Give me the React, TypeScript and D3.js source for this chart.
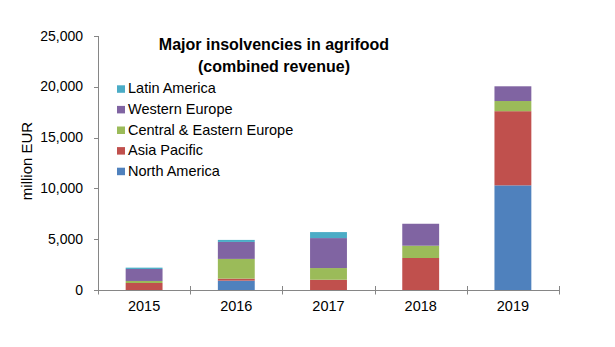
import React from "react";
import * as d3 from "d3";

const years = ["2015", "2016", "2017", "2018", "2019"];
const seriesNames = ["North America", "Asia Pacific", "Central & Eastern Europe", "Western Europe", "Latin America"];
const northAmerica = [0, 920, 0, 0, 10300];
const asiaPacific = [690, 200, 1010, 3150, 7300];
const centralEastern = [200, 1940, 1150, 1210, 1000];
const westernEurope = [1180, 1670, 2950, 2160, 1450];
const latinAmerica = [130, 200, 590, 0, 0];
const yTicks = [0, 5000, 10000, 15000, 20000, 25000];
const colors = ["#4F81BD", "#C0504D", "#9BBB59", "#8064A2", "#4BACC6"];

const W = 615, H = 347;
const left = 98, right = 559, top = 36, bottom = 290;

export default function App() {
  const seriesValues = [northAmerica, asiaPacific, centralEastern, westernEurope, latinAmerica];
  const rows = years.map((y, i) => {
    const r: any = { year: y };
    seriesNames.forEach((s, k) => (r[s] = seriesValues[k][i]));
    return r;
  });
  const stacked = d3.stack().keys(seriesNames)(rows);
  const x = d3.scaleBand().domain(years).range([left, right]).paddingInner(0.6).paddingOuter(0.3);
  const xb = d3.scaleBand().domain(years).range([left, right]);
  const y = d3.scaleLinear().domain([0, 25000]).range([bottom, top]);
  const fmt = d3.format(",");
  const font = "'Liberation Sans', Arial, sans-serif";
  const legendOrder = [4, 3, 2, 1, 0];

  return (
    <svg width={W} height={H} style={{ position: "absolute", left: 0, top: 0, fontFamily: font }}>
      <rect width={W} height={H} fill="#fff" />
      {stacked.map((s, k) => (
        <g key={k} fill={colors[k]}>
          {s.map((d, i) => (
            <rect key={i} x={x(years[i])} width={x.bandwidth()} y={y(d[1])} height={Math.max(0, y(d[0]) - y(d[1]))} />
          ))}
        </g>
      ))}
      <g stroke="#868686" strokeWidth={1} fill="none">
        <line x1={left + 0.5} x2={left + 0.5} y1={top} y2={bottom + 4.5} />
        <line x1={left} x2={right + 0.5} y1={bottom + 0.5} y2={bottom + 0.5} />
        {yTicks.map((t) => (
          <line key={t} x1={left - 4} x2={left} y1={Math.round(y(t)) + 0.5} y2={Math.round(y(t)) + 0.5} />
        ))}
        {years.map((yr) => (
          <line key={yr} x1={Math.round((xb(yr) as number) + xb.bandwidth()) + 0.5} x2={Math.round((xb(yr) as number) + xb.bandwidth()) + 0.5} y1={bottom - 4} y2={bottom + 4.5} />
        ))}
      </g>
      <g fontSize={14} fill="#000" textAnchor="end">
        {yTicks.map((t) => (
          <text key={t} x={83} y={y(t) + 4.5}>{fmt(t)}</text>
        ))}
      </g>
      <g fontSize={14.5} fill="#000" textAnchor="middle">
        {years.map((yr) => (
          <text key={yr} x={(x(yr) as number) + x.bandwidth() / 2} y={311}>{yr}</text>
        ))}
      </g>
      <text transform="translate(32,161) rotate(-90)" textAnchor="middle" fontSize={15}>million EUR</text>
      <g fontWeight="bold" fontSize={16} textAnchor="middle">
        <text x={274} y={50}>Major insolvencies in agrifood</text>
        <text x={274} y={72}>(combined revenue)</text>
      </g>
      <g fontSize={14.5}>
        {legendOrder.map((k, j) => (
          <g key={k} transform={`translate(117,${93.3 + j * 20.6})`}>
            <rect x={0} y={-8} width={8} height={7.5} fill={colors[k]} />
            <text x={11} y={0}>{seriesNames[k]}</text>
          </g>
        ))}
      </g>
    </svg>
  );
}
